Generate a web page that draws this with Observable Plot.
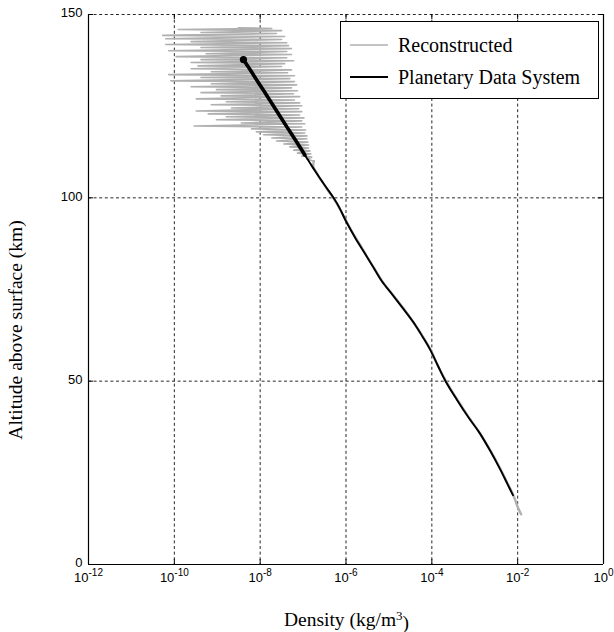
<!DOCTYPE html>
<html><head><meta charset="utf-8">
<script src="https://cdn.jsdelivr.net/npm/d3@7"></script>
<script src="https://cdn.jsdelivr.net/npm/@observablehq/plot@0.6"></script>
<style>
body{margin:0;background:#fff}
#wrap{position:relative;width:614px;height:632px}
#legend{position:absolute;left:340px;top:21px}
</style></head><body><div id="wrap"></div>
<script>
// Tick values
const xTicks = [1e-12, 1e-10, 1e-8, 1e-6, 1e-4, 1e-2, 1];
const xGrid = [1e-10, 1e-8, 1e-6, 1e-4, 1e-2];
const yTicks = [0, 50, 100, 150];
const yGrid = [50, 100, 150];

// Reconstructed profile: altitude (km) and log10 density (kg/m^3)
const reconAlt = [146.4,146.2,145.9,145.6,145.1,144.8,144.3,144.0,143.4,143.2,142.6,142.3,141.8,141.5,141.0,140.7,140.1,139.9,139.3,139.1,138.5,138.2,137.7,137.4,136.9,136.6,136.0,135.8,135.2,134.9,134.4,134.1,133.6,133.3,132.8,132.5,131.9,131.7,131.1,130.8,130.3,130.0,129.5,129.2,128.7,128.4,127.8,127.6,127.0,126.7,126.2,125.9,125.4,125.1,124.5,124.3,123.7,123.5,122.9,122.6,122.1,121.8,121.3,121.0,120.4,120.2,119.6,119.3,118.8,118.5,118.0,117.7,117.2,116.9,116.3,116.1,115.5,115.2,114.7,114.4,113.9,113.6,113.0,112.8,112.2,112.0,111.4,111.1,110.6,110.0,108.5,107.0,105.5,104.0,102.0,100.0,98.0,96.0,93.6,90.0,87.0,84.0,80.0,77.0,73.6,70.0,65.4,62.0,58.6,54.0,50.0,45.0,40.0,36.0,31.0,26.0,22.0,18.9,16.0,13.7];
const reconLogDensity = [-8.51,-7.73,-9.91,-7.50,-9.38,-7.62,-10.27,-7.43,-10.20,-7.50,-9.61,-7.38,-10.20,-7.34,-9.38,-7.27,-10.13,-7.38,-9.26,-7.27,-9.96,-7.38,-9.38,-7.22,-9.61,-7.43,-9.45,-7.50,-9.61,-7.27,-9.14,-7.36,-10.13,-7.20,-9.38,-7.31,-10.08,-7.20,-9.14,-7.15,-9.61,-7.27,-9.02,-7.13,-9.38,-7.22,-8.91,-7.08,-9.49,-7.20,-8.79,-7.08,-9.14,-7.03,-8.67,-7.10,-9.49,-7.03,-9.21,-7.08,-8.79,-6.98,-9.02,-7.03,-8.44,-6.96,-9.54,-7.03,-8.20,-6.94,-8.09,-6.96,-7.92,-6.91,-7.73,-6.91,-7.62,-6.89,-7.45,-6.87,-7.31,-6.87,-7.22,-6.84,-7.13,-6.82,-7.03,-6.80,-6.91,-6.75,-6.76,-6.69,-6.62,-6.53,-6.42,-6.30,-6.19,-6.10,-5.99,-5.82,-5.66,-5.51,-5.30,-5.14,-4.91,-4.67,-4.39,-4.20,-4.03,-3.85,-3.67,-3.41,-3.13,-2.89,-2.63,-2.40,-2.23,-2.10,-2.01,-1.92];

// Planetary Data System profile
const pdsAlt = [137.7,134.5,131.4,128.0,124.5,121.0,117.4,114.5,111.7,109.5,107.3,103.5,100.0,97.0,93.6,89.0,85.0,81.0,77.2,73.6,69.5,65.4,62.0,58.6,54.0,50.0,45.0,40.0,36.1,31.0,26.0,22.0,18.9];
const pdsLogDensity = [-8.39,-8.21,-8.04,-7.85,-7.66,-7.47,-7.27,-7.11,-6.96,-6.84,-6.72,-6.50,-6.29,-6.14,-6.00,-5.78,-5.57,-5.36,-5.16,-4.92,-4.65,-4.39,-4.21,-4.04,-3.85,-3.68,-3.42,-3.14,-2.90,-2.64,-2.41,-2.24,-2.11];

const seriesNames = ["Reconstructed", "Planetary Data System"];
const seriesColors = ["#b0b0b0", "#000000"];

const recon = reconAlt.map((a, i) => ({alt: a, density: Math.pow(10, reconLogDensity[i])}));
const pds = pdsAlt.map((a, i) => ({alt: a, density: Math.pow(10, pdsLogDensity[i])}));

const W = 614, H = 632, mL = 88, mR = 11, mT = 14, mB = 68;
const pw = W - mL - mR, ph = H - mT - mB;

const chart = Plot.plot({
  width: W, height: H,
  marginLeft: mL, marginRight: mR, marginTop: mT, marginBottom: mB,
  style: {fontFamily: "'Liberation Sans', Arial, sans-serif", fontSize: "13px", background: "#fff", color: "#000"},
  x: {type: "log", domain: [xTicks[0], xTicks[xTicks.length - 1]]},
  y: {domain: [yTicks[0], yTicks[yTicks.length - 1]]},
  marks: [
    Plot.ruleX(xGrid, {stroke: "#111", strokeWidth: 0.9, strokeDasharray: "3,2.6"}),
    Plot.ruleY(yGrid, {stroke: "#111", strokeWidth: 0.9, strokeDasharray: "3,2.6"}),
    Plot.line(recon, {filter: d => d.alt >= 110, x: "density", y: "alt", stroke: seriesColors[0], strokeWidth: 1.6}),
    Plot.line(recon, {filter: d => d.alt <= 110, x: "density", y: "alt", stroke: seriesColors[0], strokeWidth: 2.4, curve: "catmull-rom"}),
    Plot.line(pds, {x: "density", y: "alt", stroke: seriesColors[1], strokeWidth: 1.9, curve: "catmull-rom"}),
    Plot.line(pds, {filter: d => d.alt >= 111.7, x: "density", y: "alt", stroke: seriesColors[1], strokeWidth: 3.6, curve: "catmull-rom"}),
    Plot.dot(pds.slice(0, 1), {x: "density", y: "alt", r: 3.6, fill: seriesColors[1], stroke: null}),
    // frame: left, right, bottom solid
    Plot.ruleX([xTicks[0], xTicks[xTicks.length - 1]], {stroke: "#000", strokeWidth: 1.2}),
    Plot.ruleY([yTicks[0]], {stroke: "#000", strokeWidth: 1.2}),
    // inward tick marks
    Plot.ruleX(xTicks, {stroke: "#000", insetTop: ph - 5}),
    Plot.ruleX(xTicks, {stroke: "#000", insetBottom: ph - 5}),
    Plot.ruleY(yTicks, {stroke: "#000", insetRight: pw - 5}),
    Plot.ruleY(yTicks, {stroke: "#000", insetLeft: pw - 5}),
    Plot.axisX(xTicks, {tickSize: 0, tickPadding: 8, label: null, fontSize: 13,
      tickFormat: d => "10^" + Math.round(Math.log10(d))}),
    Plot.axisY(yTicks, {tickSize: 0, tickPadding: 6, label: null, fontSize: 13, dy: -1.5})
  ]
});

const svg = d3.select(chart);
const serif = "'Liberation Serif', 'Times New Roman', serif";
svg.append("text")
  .attr("x", mL + pw / 2 + 1).attr("y", 626)
  .attr("text-anchor", "middle").attr("font-family", serif).attr("font-size", "19.5px").attr("fill", "#000")
  .call(t => { t.append("tspan").text("Density (kg/m"); t.append("tspan").attr("dy", "-0.45em").attr("font-size", "13px").text("3"); t.append("tspan").attr("dy", "0.45em").text(")"); });
svg.append("text")
  .attr("transform", `translate(22,330) rotate(-90)`)
  .attr("text-anchor", "middle").attr("font-family", serif).attr("font-size", "19.5px").attr("fill", "#000")
  .text("Altitude above surface (km)");

const wrap = document.getElementById("wrap");
wrap.appendChild(chart);

// split x tick labels into base "10" and a superscript exponent, centred together
svg.selectAll('g[aria-label="x-axis tick label"] text').each(function() {
  const parts = this.textContent.split("^");
  const base = d3.select(this);
  base.text(parts[0]).attr("text-anchor", "start");
  const supNode = this.cloneNode(false);
  this.parentNode.appendChild(supNode);
  const sup = d3.select(supNode).attr("text-anchor", "start");
  sup.append("tspan").attr("dy", "-6").attr("font-size", "10px").text(parts[1]);
  const w1 = this.getComputedTextLength();
  const w2 = supNode.getComputedTextLength();
  const start = -(w1 + w2) / 2;
  base.attr("dx", start);
  sup.attr("dx", start + w1);
});

// legend
const lg = d3.create("svg").attr("id", "legend").attr("width", 260).attr("height", 78);
lg.append("rect").attr("x", 0.5).attr("y", 0.5).attr("width", 258).attr("height", 77).attr("fill", "#fff").attr("stroke", "#000");
seriesNames.forEach((name, i) => {
  const cy = 24 + i * 32;
  lg.append("line").attr("x1", 10).attr("x2", 48).attr("y1", cy).attr("y2", cy)
    .attr("stroke", seriesColors[i]).attr("stroke-width", i === 0 ? 1.6 : 2);
  lg.append("text").attr("x", 58).attr("y", cy + 7).attr("font-family", serif).attr("font-size", "20px").attr("fill", "#000").text(name);
});
wrap.appendChild(lg.node());
</script>
</body></html>
